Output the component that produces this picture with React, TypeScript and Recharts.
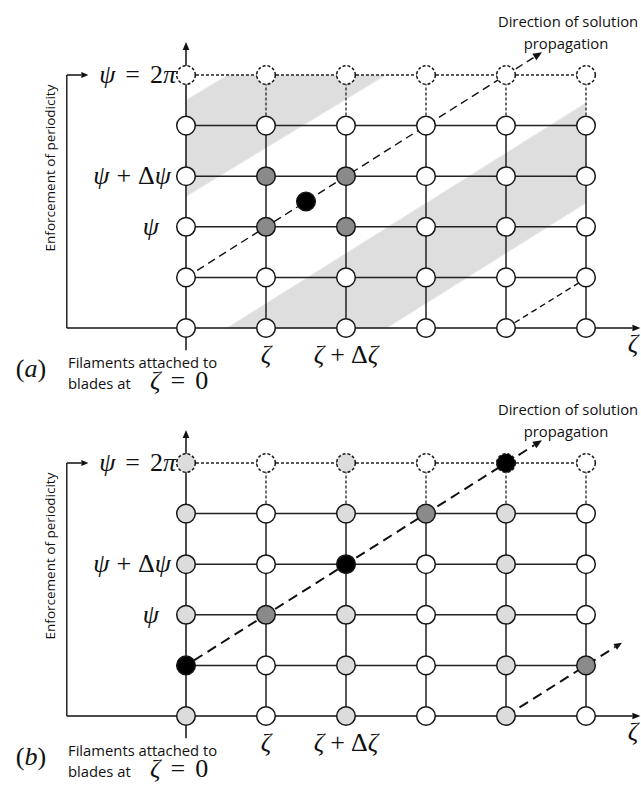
import { ScatterChart, Scatter, XAxis, YAxis, ReferenceLine, ReferenceArea } from 'recharts';

// zeta stations along the wake and psi rows (last row is psi = 2pi, the periodic copy)
const zetaCols = [0, 1, 2, 3, 4, 5];
const psiRows = [0, 1, 2, 3, 4, 5];
const TOP = 5;

// node shading per row, listed from psi = 2pi down to the blade row
// w = not yet solved, g = used in update, l = already solved, k = being solved
const fillsA = ['wwwwww', 'wwwwww', 'wggwww', 'wggwww', 'wwwwww', 'wwwwww'];
const fillsB = ['lwlwkw', 'lwlglw', 'lwkwlw', 'lglwlw', 'kwlwlg', 'lwlwlw'];

// midpoint node of the upwind stencil in (a)
const extraA = [{ x: 1.5, y: 2.5, kind: 'k' }];

// shaded bands in (a), polygon vertices in (zeta, psi)
const bandUpperA = [[0, 4.5], [0.52, 5], [2.5, 5], [0, 2.6]];
const bandLowerA = [[0.51, 0], [5, 4.45], [5, 2.47], [2.51, 0]];

// propagation arrows, from -> to in (zeta, psi)
const sweepA = [[0.14, 1.14], [4.45, 5.45]];
const wrapA = [[4, 0], [5.0, 0.98]];
const sweepB = [[0.1, 1.1], [4.45, 5.45]];
const wrapB = [[4, 0], [5.45, 1.45]];

const FILL: Record<string, string> = { w: '#ffffff', g: '#8a8a8a', l: '#dcdcdc', k: '#000000' };
const INK = '#222';

const W = 641;
const PANEL_H = 392;
const MARGIN = { top: 75, right: 55, bottom: 64, left: 186 };

const buildNodes = (rows: string[], extra: { x: number; y: number; kind: string }[]) => {
  const out: { x: number; y: number; kind: string; dashed: boolean }[] = [];
  rows.forEach((row, i) => {
    const psi = psiRows[psiRows.length - 1 - i];
    zetaCols.forEach((z, c) => out.push({ x: z, y: psi, kind: row[c], dashed: psi === TOP }));
  });
  extra.forEach((e) => out.push({ ...e, dashed: false }));
  return out;
};

const NodeShape = (props: any) => {
  const { cx, cy, payload } = props;
  return (
    <circle
      cx={cx}
      cy={cy}
      r={9.3}
      fill={FILL[payload.kind]}
      stroke="#151515"
      strokeWidth={1.5}
      strokeDasharray={payload.dashed ? '3 2' : undefined}
    />
  );
};

// line with a filled head at the end point
const arrowShape = (dash: string | undefined, width: number, head: number) => (p: any) => {
  const { x1, y1, x2, y2 } = p;
  const a = Math.atan2(y2 - y1, x2 - x1);
  const bx = x2 - head * Math.cos(a);
  const by = y2 - head * Math.sin(a);
  const nx = -Math.sin(a) * head * 0.42;
  const ny = Math.cos(a) * head * 0.42;
  return (
    <g>
      <line x1={x1} y1={y1} x2={bx} y2={by} stroke="#111" strokeWidth={width} strokeDasharray={dash} />
      <polygon points={`${x2},${y2} ${bx + nx},${by + ny} ${bx - nx},${by - ny}`} fill="#111" />
    </g>
  );
};

const bandShape = (verts: number[][]) => (p: any) => {
  const { x, y, width, height } = p;
  const pts = verts
    .map(([z, s]) => `${x + (z / TOP) * width},${y + height - (s / TOP) * height}`)
    .join(' ');
  return <polygon points={pts} fill="#dedede" stroke="#ececec" strokeWidth={1} />;
};

const seg = (a: number[], b: number[]) => [{ x: a[0], y: a[1] }, { x: b[0], y: b[1] }];

const gridLines = () => {
  const lines: any[] = [];
  // psi rows below the periodic row
  psiRows.slice(1, TOP).forEach((s) =>
    lines.push(
      <ReferenceLine key={`h${s}`} segment={seg([0, s], [TOP, s])} stroke={INK} strokeWidth={1.5} ifOverflow="visible" />
    )
  );
  // zeta stations
  zetaCols.slice(1).forEach((z) => {
    lines.push(
      <ReferenceLine key={`v${z}`} segment={seg([z, 0], [z, TOP - 1])} stroke={INK} strokeWidth={1.5} ifOverflow="visible" />
    );
    lines.push(
      <ReferenceLine
        key={`vd${z}`}
        segment={seg([z, TOP - 1], [z, TOP])}
        stroke={INK}
        strokeWidth={1.3}
        strokeDasharray="3 2"
        ifOverflow="visible"
      />
    );
  });
  // periodic row
  lines.push(
    <ReferenceLine key="hp" segment={seg([0, TOP], [TOP, TOP])} stroke={INK} strokeWidth={1.3} strokeDasharray="3 2" ifOverflow="visible" />
  );
  // periodicity bracket
  lines.push(<ReferenceLine key="b1" segment={seg([-1.49, 0], [-1.49, TOP])} stroke={INK} strokeWidth={1.5} ifOverflow="visible" />);
  lines.push(
    <ReferenceLine key="b2" segment={seg([-1.49, TOP], [-1.22, TOP])} ifOverflow="visible" shape={arrowShape(undefined, 1.5, 7)} />
  );
  // axes
  lines.push(
    <ReferenceLine key="ax" segment={seg([-1.49, 0], [5.68, 0])} ifOverflow="visible" shape={arrowShape(undefined, 1.5, 8)} />
  );
  lines.push(
    <ReferenceLine key="ay" segment={seg([0, -0.44], [0, 5.65])} ifOverflow="visible" shape={arrowShape(undefined, 1.5, 8)} />
  );
  return lines;
};

const serif: React.CSSProperties = {
  fontFamily: '"Liberation Serif", serif',
  fontSize: 26,
  lineHeight: 1,
  color: '#111',
  whiteSpace: 'nowrap',
};
const sans: React.CSSProperties = {
  fontFamily: '"Open Sans", sans-serif',
  fontSize: 14.8,
  lineHeight: 1,
  color: '#111',
  whiteSpace: 'nowrap',
};

const at = (x: number, y: number, align: 'left' | 'center' | 'right' = 'center'): React.CSSProperties => ({
  position: 'absolute',
  left: x,
  top: y,
  transform: `translate(${align === 'left' ? '0' : align === 'center' ? '-50%' : '-100%'}, -50%)`,
});

// binary / relation operator with TeX-like spacing
const Op = ({ s, gap }: { s: string; gap: number }) => <span style={{ margin: `0 ${gap}px` }}>{s}</span>;

const Panel = ({ tag, rows, extra, bandsOn, sweep, wrap, heavy }: any) => {
  const nodes = buildNodes(rows, extra);
  const dash = heavy ? '10 6' : '8 5';
  const lw = heavy ? 2 : 1.4;
  return (
    <div style={{ position: 'relative', width: W, height: PANEL_H }}>
      <ScatterChart width={W} height={PANEL_H} margin={MARGIN}>
        <XAxis type="number" dataKey="x" domain={[0, TOP]} hide />
        <YAxis type="number" dataKey="y" domain={[0, TOP]} hide />
        {bandsOn && (
          <ReferenceArea x1={0} x2={TOP} y1={0} y2={TOP} ifOverflow="visible" shape={bandShape(bandUpperA)} />
        )}
        {bandsOn && (
          <ReferenceArea x1={0} x2={TOP} y1={0} y2={TOP} ifOverflow="visible" shape={bandShape(bandLowerA)} />
        )}
        {gridLines()}
        <Scatter data={nodes} shape={NodeShape} isAnimationActive={false} />
        <ReferenceLine segment={seg(sweep[0], sweep[1])} ifOverflow="visible" shape={arrowShape(dash, lw, 9)} />
        <ReferenceLine segment={seg(wrap[0], wrap[1])} ifOverflow="visible" shape={arrowShape(heavy ? dash : '6 4', lw, 8)} />
      </ScatterChart>

      <div style={{ ...sans, ...at(568, 21) }}>Direction of solution</div>
      <div style={{ ...sans, ...at(566, 43) }}>propagation</div>
      <div style={{ ...sans, fontSize: 13.5, ...at(51, 168), transform: 'translate(-50%, -50%) rotate(-90deg)' }}>
        Enforcement of periodicity
      </div>

      <div style={{ ...serif, ...at(176, 75, 'right') }}>
        <i>ψ</i>
        <Op s="=" gap={10} />2<i>π</i>
      </div>
      <div style={{ ...serif, ...at(171, 176, 'right') }}>
        <i>ψ</i>
        <Op s="+" gap={7} />Δ<i>ψ</i>
      </div>
      <div style={{ ...serif, ...at(159, 227, 'right') }}>
        <i>ψ</i>
      </div>

      <div style={{ ...serif, ...at(266, 355) }}>
        <i>ζ</i>
      </div>
      <div style={{ ...serif, ...at(346, 355) }}>
        <i>ζ</i>
        <Op s="+" gap={6} />Δ<i>ζ</i>
      </div>
      <div style={{ ...serif, ...at(633, 344) }}>
        <i>ζ</i>
      </div>

      <div style={{ ...serif, ...at(31, 369) }}>
        (<i>{tag}</i>)
      </div>
      {/* two-line caption, the wake origin given inline */}
      <div style={{ ...sans, lineHeight: '21px', position: 'absolute', left: 68, top: 352 }}>
        Filaments attached to
        <br />
        <span style={{ display: 'inline-block', width: 82 }}>blades at</span>
        <span style={{ ...serif, lineHeight: 0 }}>
          <i>ζ</i>
          <Op s="=" gap={10} />0
        </span>
      </div>
    </div>
  );
};

export default function App() {
  return (
    <div style={{ position: 'absolute', left: 0, top: 0, width: W, height: 785, background: '#fff' }}>
      <Panel tag="a" rows={fillsA} extra={extraA} bandsOn sweep={sweepA} wrap={wrapA} heavy={false} />
      <div style={{ position: 'absolute', left: 0, top: 388 }}>
        <Panel tag="b" rows={fillsB} extra={[]} bandsOn={false} sweep={sweepB} wrap={wrapB} heavy />
      </div>
    </div>
  );
}
